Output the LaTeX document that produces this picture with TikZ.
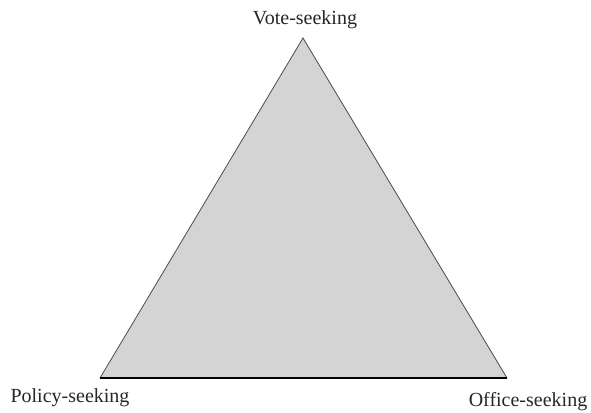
\documentclass[tikz,border=0pt]{standalone}
\usepackage{fontspec}
\setmainfont{Liberation Serif}
\usepackage{tikz}

\begin{document}
\begin{tikzpicture}[x=1pt, y=1pt]
    \useasboundingbox (0,0) rectangle (591,412);
    \tikzset{goal/.style={font=\fontsize{20}{24}\selectfont, text=black!85}}

    % Shaded triangle
    \fill[black!17] (100,34) -- (303,374) -- (507,34) -- cycle;
    \draw[black!70, line width=0.8pt] (100,34) -- (303,374) -- (507,34);
    \draw[black, line width=2.4pt] (100,34) -- (507,34);

    % Corner labels
    \node[goal] (vote) at (305, 392) {Vote-seeking};
    \node[goal] (policy) at (70, 14) {Policy-seeking};
    \node[goal] (office) at (528, 10) {Office-seeking};
\end{tikzpicture}
\end{document}
